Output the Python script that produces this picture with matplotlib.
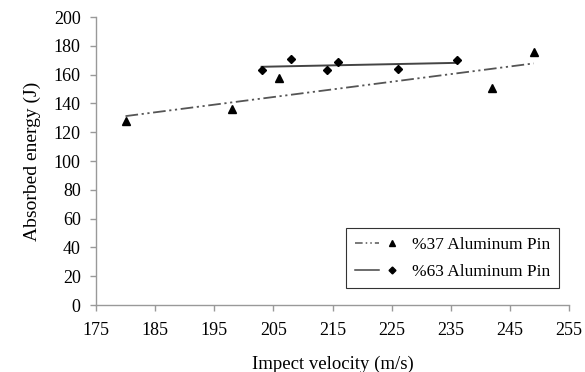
import numpy as np
import matplotlib.pyplot as plt
from matplotlib.lines import Line2D
from matplotlib.legend_handler import HandlerTuple


# =====================================================
# DATA
# =====================================================

velocity_37 = [180, 198, 206, 242, 249]
energy_37 = [128, 136, 158, 151, 176]

velocity_63 = [203, 208, 214, 216, 226, 236]
energy_63 = [163, 171, 163, 169, 164, 170]

x_ticks = [175, 185, 195, 205, 215, 225, 235, 245, 255]
y_ticks = [0, 20, 40, 60, 80, 100, 120, 140, 160, 180, 200]

label_37 = "%37 Aluminum Pin"
label_63 = "%63 Aluminum Pin"


# =====================================================
# FIGURE
# =====================================================

plt.rcParams["font.family"] = ["Liberation Serif", "DejaVu Serif"]

fig = plt.figure(figsize=(5.85, 3.72), dpi=100)
ax = fig.add_axes([0.164, 0.180, 0.809, 0.774])

# linear trend lines (fitted to the points, like Excel)
p37 = np.polyfit(velocity_37, energy_37, 1)
x37 = np.array([min(velocity_37), max(velocity_37)])
ax.plot(x37, np.polyval(p37, x37), color="#555555", lw=1.3,
        dashes=[7, 2, 1.2, 2, 1.2, 2])

p63 = np.polyfit(velocity_63, energy_63, 1)
x63 = np.array([min(velocity_63), max(velocity_63)])
ax.plot(x63, np.polyval(p63, x63), color="#444444", lw=1.4)

ax.plot(velocity_37, energy_37, linestyle="none", marker="^",
        color="black", markersize=6)
ax.plot(velocity_63, energy_63, linestyle="none", marker="D",
        color="black", markersize=4.5)

ax.set_xlim(175, 255)
ax.set_ylim(0, 200)
ax.set_xticks(x_ticks)
ax.set_yticks(y_ticks)

for side in ["top", "right"]:
    ax.spines[side].set_visible(False)
for side in ["left", "bottom"]:
    ax.spines[side].set_color("#999999")
    ax.spines[side].set_linewidth(1.0)

ax.tick_params(axis="both", colors="#999999", length=4, width=1.0,
               labelsize=13, labelcolor="black")
ax.tick_params(axis="x", pad=8)
ax.tick_params(axis="y", pad=7)

ax.set_xlabel("Impect velocity (m/s)", fontsize=13.5, labelpad=12)
ax.set_ylabel("Absorbed energy (J)", fontsize=14, labelpad=9)


# =====================================================
# LEGEND
# =====================================================

h37 = (Line2D([], [], color="#555555", lw=1.1, dashes=[5, 2, 1, 2, 1, 2]),
       Line2D([], [], color="black", marker="^", markersize=5, linestyle="none"))
h63 = (Line2D([], [], color="#444444", lw=1.1),
       Line2D([], [], color="black", marker="D", markersize=3.5, linestyle="none"))

leg = ax.legend([h37, h63], [label_37, label_63],
                handler_map={tuple: HandlerTuple(ndivide=2, pad=0.0)},
                loc="lower right", bbox_to_anchor=(0.979, 0.058),
                borderaxespad=0.0,
                fontsize=12.5, frameon=True, fancybox=False,
                edgecolor="black", handlelength=2.8, handletextpad=0.5,
                borderpad=0.5, labelspacing=0.6)
leg.get_frame().set_linewidth(0.8)

plt.savefig("out.png", dpi=100)
plt.close()
